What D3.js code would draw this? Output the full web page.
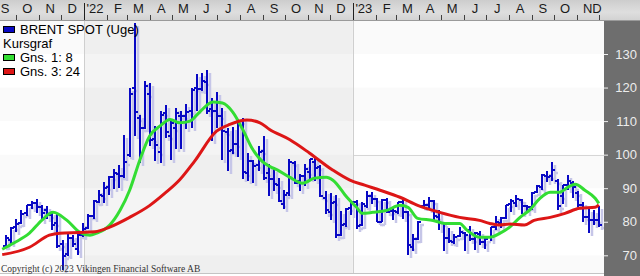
<!DOCTYPE html>
<html>
<head>
<meta charset="utf-8">
<script src="https://cdn.jsdelivr.net/npm/d3@7"></script>
<style>
  html, body { margin: 0; padding: 0; background: #fff; overflow: hidden; }
  svg { display: block; }
</style>
</head>
<body>
<div id="chart"></div>
<script>
// weekly bars (friday of each week)
var weeks = [
  "2021-09-17","2021-09-24","2021-10-01","2021-10-08","2021-10-15","2021-10-22","2021-10-29","2021-11-05",
  "2021-11-12","2021-11-19","2021-11-26","2021-12-03","2021-12-10","2021-12-17","2021-12-24","2021-12-31",
  "2022-01-07","2022-01-14","2022-01-21","2022-01-28","2022-02-04","2022-02-11","2022-02-18","2022-02-25",
  "2022-03-04","2022-03-11","2022-03-18","2022-03-25","2022-04-01","2022-04-08","2022-04-15","2022-04-22",
  "2022-04-29","2022-05-06","2022-05-13","2022-05-20","2022-05-27","2022-06-03","2022-06-10","2022-06-17",
  "2022-06-24","2022-07-01","2022-07-08","2022-07-15","2022-07-22","2022-07-29","2022-08-05","2022-08-12",
  "2022-08-19","2022-08-26","2022-09-02","2022-09-09","2022-09-16","2022-09-23","2022-09-30","2022-10-07",
  "2022-10-14","2022-10-21","2022-10-28","2022-11-04","2022-11-11","2022-11-18","2022-11-25","2022-12-02",
  "2022-12-09","2022-12-16","2022-12-23","2022-12-30",
  "2023-01-06","2023-01-13","2023-01-20","2023-01-27","2023-02-03","2023-02-10","2023-02-17","2023-02-24",
  "2023-03-03","2023-03-10","2023-03-17","2023-03-24","2023-03-31","2023-04-07","2023-04-14","2023-04-21",
  "2023-04-28","2023-05-05","2023-05-12","2023-05-19","2023-05-26","2023-06-02","2023-06-09","2023-06-16",
  "2023-06-23","2023-06-30","2023-07-07","2023-07-14","2023-07-21","2023-07-28","2023-08-04","2023-08-11",
  "2023-08-18","2023-08-25","2023-09-01","2023-09-08","2023-09-15","2023-09-22","2023-09-29","2023-10-06",
  "2023-10-13","2023-10-20","2023-10-27","2023-11-03","2023-11-10","2023-11-17","2023-11-24","2023-12-01"
];

var open = [
  72.9, 74.6, 78.3, 79.5, 82.5, 85.0, 85.6, 84.4, 83.4, 82.0, 79.5, 73.4, 70.5, 75.2, 72.0, 76.0,
  78.2, 81.6, 86.0, 87.6, 90.3, 93.2, 94.2, 93.6, 100.0, 120.0, 111.0, 108.0, 118.0, 104.8, 100.8, 112.3,
  105.5, 108.0, 111.6, 111.4, 113.0, 120.0, 119.5, 121.6, 113.6, 113.1, 111.6, 106.8, 101.5, 103.2, 110.0, 94.5,
  98.0, 96.8, 101.0, 94.6, 92.6, 91.0, 85.2, 88.5, 97.5, 92.2, 93.5, 94.8, 97.9, 96.2, 87.1, 83.0,
  86.0, 76.0, 79.2, 84.0,
  85.9, 78.9, 84.6, 87.8, 86.8, 80.0, 86.6, 83.2, 83.0, 85.8, 82.8, 72.6, 75.0, 84.6, 85.0, 86.3,
  81.4, 79.5, 75.3, 74.0, 75.8, 76.7, 77.5, 74.8, 76.2, 74.0, 75.4, 78.4, 79.6, 81.1, 85.4, 85.6,
  86.6, 84.6, 84.4, 88.9, 90.5, 93.7, 93.6, 92.1, 87.6, 91.1, 91.5, 88.7, 84.9, 81.3, 80.5, 80.6
];
var high = [
  76.0, 78.3, 80.8, 83.5, 85.1, 86.1, 86.7, 85.0, 84.6, 83.0, 82.6, 74.6, 76.2, 76.0, 76.5, 79.7,
  82.4, 86.4, 89.5, 91.7, 93.7, 95.6, 96.8, 105.8, 119.8, 139.1, 111.9, 122.0, 121.5, 108.4, 113.0, 114.8,
  110.5, 114.0, 113.0, 115.0, 120.0, 124.0, 124.4, 125.2, 116.8, 118.8, 114.0, 108.0, 108.3, 110.6, 110.9, 100.6,
  98.3, 102.5, 105.6, 97.2, 95.6, 93.0, 89.4, 98.8, 98.2, 94.3, 97.3, 98.6, 99.6, 96.9, 89.1, 88.7,
  88.0, 83.3, 84.0, 86.3,
  86.4, 85.8, 89.1, 89.0, 87.0, 86.9, 87.0, 84.5, 86.0, 86.8, 83.3, 76.3, 80.1, 86.4, 87.5, 86.4,
  83.5, 79.6, 78.0, 76.4, 78.5, 77.0, 78.6, 77.0, 77.2, 75.3, 78.5, 81.8, 81.3, 85.0, 86.8, 88.1,
  86.7, 85.0, 89.0, 91.1, 94.2, 95.0, 97.7, 92.6, 91.0, 93.8, 92.2, 89.1, 86.0, 83.8, 83.6, 84.8
];
var low = [
  72.6, 73.3, 77.0, 79.3, 81.6, 83.8, 82.5, 80.2, 80.9, 77.6, 72.1, 65.7, 69.8, 72.5, 70.2, 75.6,
  77.9, 80.7, 85.5, 85.6, 88.1, 89.8, 90.1, 92.9, 99.4, 105.6, 97.4, 107.5, 102.5, 98.0, 97.6, 104.9,
  98.5, 101.8, 101.7, 107.5, 108.0, 113.0, 119.0, 112.0, 104.0, 108.0, 98.5, 95.0, 100.3, 99.4, 92.8, 92.2,
  91.5, 95.0, 92.4, 87.8, 89.2, 85.9, 83.7, 87.8, 91.2, 89.3, 90.7, 92.6, 92.2, 87.4, 82.3, 80.6,
  75.1, 75.9, 78.4, 82.0,
  77.8, 78.6, 84.1, 85.3, 79.8, 79.8, 82.6, 80.4, 82.2, 80.7, 70.1, 71.4, 74.6, 84.1, 83.4, 80.4,
  77.5, 71.4, 73.8, 73.4, 75.5, 71.4, 74.2, 71.6, 73.2, 71.9, 74.2, 77.4, 78.1, 80.9, 82.9, 84.5,
  82.3, 82.5, 83.6, 88.5, 89.6, 91.8, 92.0, 83.5, 85.3, 89.6, 87.2, 84.4, 79.9, 76.6, 78.9, 78.4
];
var close = [
  75.3, 78.1, 79.3, 82.4, 84.9, 85.5, 84.4, 82.7, 82.2, 78.9, 72.7, 69.9, 75.2, 73.5, 76.1, 77.8,
  81.8, 86.1, 87.9, 90.0, 93.3, 94.4, 93.5, 97.9, 118.1, 112.7, 107.9, 120.6, 104.4, 102.8, 111.7, 106.7,
  109.3, 112.4, 111.6, 112.6, 119.4, 119.7, 122.0, 113.1, 113.1, 111.6, 107.0, 101.2, 103.2, 110.0, 94.9, 98.2,
  96.7, 100.9, 93.0, 92.8, 91.4, 86.2, 88.0, 97.9, 91.6, 93.5, 95.8, 98.6, 96.0, 87.6, 83.6, 85.6,
  76.1, 79.0, 83.9, 85.9,
  78.6, 85.3, 87.6, 86.7, 79.9, 86.4, 83.0, 83.2, 85.8, 82.8, 73.0, 75.0, 79.8, 85.1, 86.3, 81.7,
  79.5, 75.3, 74.2, 75.6, 77.0, 76.1, 74.8, 76.6, 73.9, 74.9, 78.5, 79.9, 81.1, 85.0, 86.2, 86.8,
  84.8, 84.5, 88.6, 90.7, 93.9, 93.3, 95.3, 84.6, 90.9, 92.2, 90.5, 84.9, 81.4, 80.6, 80.6, 78.9
];

// moving averages
var ma8Dates = [
  "2021-09-12","2021-09-29","2021-10-19","2021-11-05","2021-11-20","2021-12-09","2021-12-26","2022-01-09",
  "2022-01-18","2022-02-05","2022-02-19","2022-03-04","2022-03-18","2022-03-31","2022-04-14","2022-04-28",
  "2022-05-11","2022-05-25","2022-06-07","2022-06-25","2022-07-08","2022-07-22","2022-08-05","2022-08-17",
  "2022-08-31","2022-09-10","2022-09-21","2022-10-07","2022-10-25","2022-11-10","2022-11-26","2022-12-05",
  "2022-12-24","2023-01-06","2023-01-14","2023-01-28","2023-02-16","2023-03-06","2023-03-17","2023-03-30",
  "2023-04-20","2023-05-06","2023-05-26","2023-06-05","2023-06-22","2023-07-06","2023-07-20","2023-08-02",
  "2023-08-16","2023-08-30","2023-09-12","2023-09-26","2023-10-09","2023-10-20","2023-10-30","2023-11-12",
  "2023-11-26","2023-12-01"
];
var ma8 = [
  71.8, 73.8, 76.6, 80.5, 82.8, 80.4, 76.9, 76.0,
  76.6, 79.0, 83.4, 89.4, 98.5, 105.5, 108.5, 110.5,
  109.5, 110.0, 112.7, 115.7, 115.4, 112.7, 107.3, 102.0,
  98.0, 96.5, 95.4, 93.3, 91.5, 93.0, 93.3, 92.4,
  87.3, 84.3, 82.5, 82.8, 83.4, 84.9, 84.3, 81.0,
  80.4, 79.5, 79.5, 77.5, 75.4, 75.4, 76.6, 78.4,
  81.3, 83.7, 87.0, 88.8, 88.8, 90.3, 91.2, 89.4,
  87.0, 85.5
];
var ma24Dates = [
  "2021-09-12","2021-10-19","2021-11-15","2021-11-29","2021-12-26","2022-01-16","2022-02-05","2022-03-04",
  "2022-03-31","2022-04-21","2022-05-11","2022-05-31","2022-06-30","2022-07-18","2022-08-10","2022-08-28",
  "2022-09-10","2022-10-07","2022-11-03","2022-12-04","2022-12-28","2023-01-17","2023-02-07","2023-03-06",
  "2023-03-30","2023-04-29","2023-05-26","2023-06-22","2023-07-06","2023-07-19","2023-08-02","2023-08-22",
  "2023-09-04","2023-09-26","2023-10-16","2023-11-05","2023-11-26","2023-12-01"
];
var ma24 = [
  70.2, 72.4, 76.0, 76.6, 76.8, 77.0, 78.4, 81.3,
  84.8, 88.5, 92.5, 98.0, 107.0, 109.0, 110.3, 109.5,
  107.5, 104.5, 100.5, 95.5, 92.4, 90.9, 89.4, 87.3,
  84.9, 82.8, 81.3, 80.4, 79.5, 79.0, 79.3, 79.0,
  80.4, 81.3, 82.5, 84.0, 84.3, 85.0
];

var yTicks = [70, 80, 90, 100, 110, 120, 130];
var monthLetters = ["J", "F", "M", "A", "M", "J", "J", "A", "S", "O", "N", "D"];
var legendItems = [
  {label: "BRENT SPOT (Uge)", color: "#0808c4"},
  {label: "Kursgraf", color: null},
  {label: "Gns. 1: 8", color: "#33dd33"},
  {label: "Gns. 3: 24", color: "#dd1616"}
];

var width = 640, height = 276;
var plotRight = 604, plotTop = 21, plotBottom = 273;
var font = "'Liberation Sans Narrow', 'Liberation Sans', Arial, sans-serif";

var parse = d3.timeParse("%Y-%m-%d");

var svg = d3.select("#chart")
  .append("svg")
    .attr("width", width)
    .attr("height", height);

var x = d3.scaleTime()
  .domain([parse("2021-09-09"), parse("2023-12-08")])
  .range([0, plotRight]);

var y = d3.scaleLinear()
  .domain([70, 130])
  .range([255.3, 54]);

// gradient for the top date band
var defs = svg.append("defs");
var grad = defs.append("linearGradient")
    .attr("id", "topband")
    .attr("x1", 0).attr("y1", 0).attr("x2", 0).attr("y2", 1);
grad.append("stop").attr("offset", "0%").attr("stop-color", "#cdcdcd");
grad.append("stop").attr("offset", "60%").attr("stop-color", "#dedede");
grad.append("stop").attr("offset", "100%").attr("stop-color", "#d2d2d2");

defs.append("clipPath").attr("id", "plotclip")
  .append("rect")
    .attr("x", 0).attr("y", plotTop)
    .attr("width", plotRight).attr("height", plotBottom - plotTop);

// plot background, 2022 shaded
svg.append("rect")
    .attr("x", 0).attr("y", plotTop)
    .attr("width", plotRight).attr("height", plotBottom - plotTop)
    .attr("fill", "#ffffff");

svg.append("rect")
    .attr("x", x(parse("2022-01-01"))).attr("y", plotTop)
    .attr("width", x(parse("2023-01-01")) - x(parse("2022-01-01")))
    .attr("height", plotBottom - plotTop)
    .attr("fill", "#f4f4f4");

// faint horizontal bands between every other tick
var bands = [[130, 140], [110, 120], [90, 100], [60, 70]];
svg.append("g")
    .attr("clip-path", "url(#plotclip)")
  .selectAll("rect")
  .data(bands)
  .enter()
  .append("rect")
    .attr("x", 0)
    .attr("y", function(d) { return y(d[1]); })
    .attr("width", plotRight)
    .attr("height", function(d) { return y(d[0]) - y(d[1]); })
    .attr("fill", "#000")
    .attr("opacity", 0.018);

// year separators
svg.append("g")
  .selectAll("line")
  .data([parse("2022-01-01"), parse("2023-01-01")])
  .enter()
  .append("line")
    .attr("x1", function(d) { return Math.round(x(d)) + 0.5; })
    .attr("x2", function(d) { return Math.round(x(d)) + 0.5; })
    .attr("y1", plotTop).attr("y2", plotBottom)
    .attr("stroke", "#cfcfcf");

// reference line at 100 (only visible in the current year)
svg.append("line")
    .attr("x1", Math.round(x(parse("2023-01-01"))) + 1).attr("x2", plotRight)
    .attr("y1", Math.round(y(100)) + 0.5).attr("y2", Math.round(y(100)) + 0.5)
    .attr("stroke", "#d6d6d6");

// bottom edge
svg.append("line")
    .attr("x1", 0).attr("x2", plotRight)
    .attr("y1", plotBottom + 0.5).attr("y2", plotBottom + 0.5)
    .attr("stroke", "#c4c4c4");

// OHLC bars
var bars = weeks.map(function(w, i) {
  return {date: parse(w), o: open[i], h: high[i], l: low[i], c: close[i]};
});

function barPath(d) {
  var cx = Math.round(x(d.date));
  return "M" + cx + "," + Math.round(y(d.h)) + "V" + Math.round(y(d.l)) +
         "M" + (cx - 3) + "," + Math.round(y(d.o)) + "H" + cx +
         "M" + cx + "," + Math.round(y(d.c)) + "H" + (cx + 3);
}

var barLayer = svg.append("g").attr("clip-path", "url(#plotclip)");

barLayer.append("g")
    .attr("transform", "translate(3,3)")
  .selectAll("path")
  .data(bars)
  .enter()
  .append("path")
    .attr("d", barPath)
    .attr("fill", "none")
    .attr("stroke", "#c6c6e8")
    .attr("stroke-width", 2.5);

barLayer.append("g")
  .selectAll("path")
  .data(bars)
  .enter()
  .append("path")
    .attr("d", barPath)
    .attr("fill", "none")
    .attr("stroke", "#0808c4")
    .attr("stroke-width", 2);

// moving averages
var line = d3.line()
  .x(function(d) { return x(d.date); })
  .y(function(d) { return y(d.value); })
  .curve(d3.curveMonotoneX);

var ma8Data = ma8Dates.map(function(dt, i) { return {date: parse(dt), value: ma8[i]}; });
var ma24Data = ma24Dates.map(function(dt, i) { return {date: parse(dt), value: ma24[i]}; });

barLayer.append("path")
    .datum(ma8Data)
    .attr("fill", "none")
    .attr("stroke", "#33dd33")
    .attr("stroke-width", 3)
    .attr("stroke-linejoin", "round")
    .attr("d", line);

barLayer.append("path")
    .datum(ma24Data)
    .attr("fill", "none")
    .attr("stroke", "#dd1616")
    .attr("stroke-width", 3)
    .attr("stroke-linejoin", "round")
    .attr("d", line);

// top date band
svg.append("rect")
    .attr("x", 0).attr("y", 0)
    .attr("width", width).attr("height", 20)
    .attr("fill", "url(#topband)");
svg.append("line")
    .attr("x1", 0).attr("x2", width)
    .attr("y1", 20.5).attr("y2", 20.5)
    .attr("stroke", "#9a9a9a");

var months = d3.timeMonth.range(parse("2021-09-01"), parse("2024-01-01"));

var topAxis = svg.append("g");

topAxis.selectAll("line")
  .data(months.filter(function(m) { return x(m) > 0 && x(m) < plotRight; }))
  .enter()
  .append("line")
    .attr("x1", function(m) { return Math.round(x(m)) + 0.5; })
    .attr("x2", function(m) { return Math.round(x(m)) + 0.5; })
    .attr("y1", function(m) { return m.getMonth() === 0 ? 3 : 15; })
    .attr("y2", 20)
    .attr("stroke", function(m) { return m.getMonth() === 0 ? "#202020" : "#404040"; })
    .attr("stroke-width", 1);

topAxis.selectAll("text")
  .data(months)
  .enter()
  .append("text")
    .attr("x", function(m) {
      var mid = x(d3.timeDay.offset(m, 15));
      return Math.max(5, Math.min(597, mid));
    })
    .attr("y", 13)
    .attr("text-anchor", "middle")
    .style("font", "13px " + font)
    .attr("fill", "#1a1a1a")
    .text(function(m) {
      return m.getMonth() === 0 ? "'" + d3.timeFormat("%y")(m) : monthLetters[m.getMonth()];
    });

// right value panel
svg.append("rect")
    .attr("x", plotRight).attr("y", 21)
    .attr("width", width - plotRight).attr("height", height - 21)
    .attr("fill", "#6e6e6e");

var rightAxis = svg.append("g")
    .attr("transform", "translate(" + plotRight + ",0)")
    .call(d3.axisRight(y).tickValues(yTicks).tickSize(4).tickPadding(0));

rightAxis.select(".domain").remove();
rightAxis.selectAll("line").attr("stroke", "#f0f0f0");
rightAxis.selectAll("text")
    .attr("x", 33)
    .attr("text-anchor", "end")
    .attr("fill", "#ececec")
    .style("font", "13px " + font);

// legend
var legend = svg.append("g");
legendItems.forEach(function(item, i) {
  var ly = 34 + i * 14;
  if (item.color) {
    legend.append("rect")
        .attr("x", 3.5).attr("y", ly - 7.5)
        .attr("width", 11).attr("height", 6)
        .attr("fill", item.color)
        .attr("stroke", "#000")
        .attr("stroke-width", 1);
  }
  legend.append("text")
      .attr("x", item.color ? 20 : 3)
      .attr("y", ly)
      .style("font", "13px " + font)
      .attr("fill", "#000")
      .text(item.label);
});

// copyright
svg.append("text")
    .attr("x", 1)
    .attr("y", 272)
    .style("font", "9.5px 'Liberation Serif', 'DejaVu Serif', serif")
    .attr("fill", "#333")
    .text("Copyright (c) 2023 Vikingen Financial Software AB");
</script>
</body>
</html>
